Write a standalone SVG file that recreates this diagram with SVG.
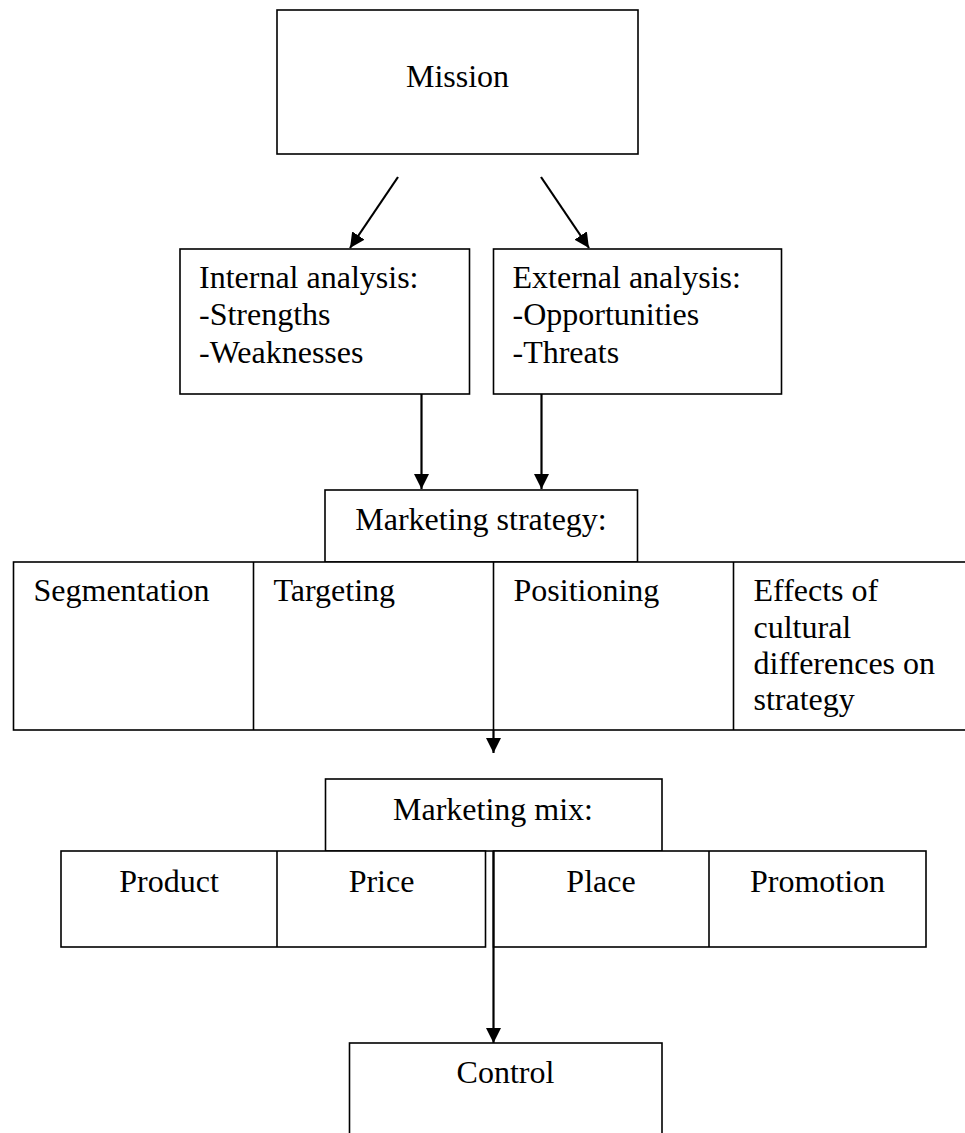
<svg xmlns="http://www.w3.org/2000/svg" width="965" height="1133" viewBox="0 0 965 1133">
<style>
.box{fill:#fff;stroke:#000;stroke-width:1.6}
.ln{fill:none;stroke:#000;stroke-width:1.6}
.t{font-family:"Liberation Serif","Times New Roman",serif;font-size:32px;fill:#000}
.c{text-anchor:middle}
.arr{fill:none;stroke:#000;stroke-width:2.2;marker-end:url(#ah)}
</style>
<defs>
<marker id="ah" viewBox="0 0 15 15" refX="15" refY="7.5" markerWidth="15" markerHeight="15" markerUnits="userSpaceOnUse" orient="auto">
<path d="M0,0 L15,7.5 L0,15 z" fill="#000"/>
</marker>
</defs>
<rect width="965" height="1133" fill="#fff"/>
<g id="mission">
<rect class="box" x="277" y="10" width="361" height="144"/>
<text class="t c" x="457.5" y="87">Mission</text>
</g>
<g id="internal">
<rect class="box" x="180" y="249" width="289.5" height="145"/>
<text class="t" x="199" y="288">Internal analysis:</text>
<text class="t" x="199" y="325">-Strengths</text>
<text class="t" x="199" y="363">-Weaknesses</text>
</g>
<g id="external">
<rect class="box" x="493.5" y="249" width="288" height="145"/>
<text class="t" x="512.5" y="288">External analysis:</text>
<text class="t" x="512.5" y="325">-Opportunities</text>
<text class="t" x="512.5" y="363">-Threats</text>
</g>
<g id="marketing-strategy">
<rect class="box" x="325" y="490" width="312.5" height="72"/>
<text class="t c" x="481" y="530">Marketing strategy:</text>
</g>
<g id="strategy-row">
<rect class="box" x="13.5" y="562" width="965" height="168"/>
<line class="ln" x1="253.5" y1="562" x2="253.5" y2="730"/>
<line class="ln" x1="493.5" y1="562" x2="493.5" y2="730"/>
<line class="ln" x1="733.5" y1="562" x2="733.5" y2="730"/>
</g>
<g id="segmentation"><text class="t" x="33.5" y="601">Segmentation</text></g>
<g id="targeting"><text class="t" x="273.5" y="601">Targeting</text></g>
<g id="positioning"><text class="t" x="513.5" y="601">Positioning</text></g>
<g id="effects">
<text class="t" x="753.5" y="601">Effects of</text>
<text class="t" x="753.5" y="637.5">cultural</text>
<text class="t" x="753.5" y="674">differences on</text>
<text class="t" x="753.5" y="710">strategy</text>
</g>
<g id="marketing-mix">
<rect class="box" x="325.5" y="779" width="336.5" height="72"/>
<text class="t c" x="493" y="820">Marketing mix:</text>
</g>
<g id="mix-left">
<rect class="box" x="61" y="851" width="424.5" height="96"/>
<line class="ln" x1="277" y1="851" x2="277" y2="947"/>
</g>
<g id="mix-right">
<rect class="box" x="493.5" y="851" width="432.5" height="96"/>
<line class="ln" x1="709" y1="851" x2="709" y2="947"/>
</g>
<g id="product"><text class="t c" x="169" y="892">Product</text></g>
<g id="price"><text class="t c" x="381.5" y="892">Price</text></g>
<g id="place"><text class="t c" x="601" y="892">Place</text></g>
<g id="promotion"><text class="t c" x="817.5" y="892">Promotion</text></g>
<g id="control">
<rect class="box" x="349.5" y="1043" width="312.5" height="110"/>
<text class="t c" x="505.5" y="1083">Control</text>
</g>
<g id="connectors">
<line class="arr" x1="398" y1="177" x2="350" y2="248"/>
<line class="arr" x1="541" y1="177" x2="589" y2="248"/>
<line class="arr" x1="421.5" y1="394" x2="421.5" y2="489"/>
<line class="arr" x1="541.5" y1="394" x2="541.5" y2="489"/>
<line class="arr" x1="493.5" y1="730" x2="493.5" y2="753"/>
<line class="arr" x1="493.5" y1="851" x2="493.5" y2="1043"/>
</g>
</svg>
